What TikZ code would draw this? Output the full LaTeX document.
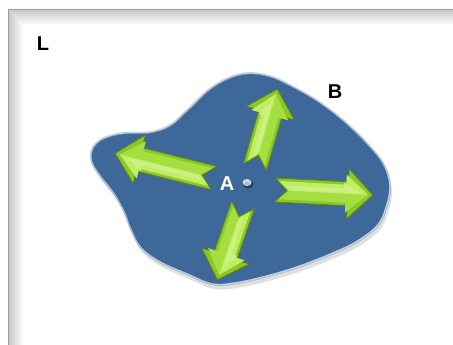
\documentclass[tikz,border=0pt]{standalone}
\usepackage{fontspec}
\setmainfont{Liberation Sans}
\definecolor{blobfill}{RGB}{61,104,153}
\definecolor{blobrim}{RGB}{190,210,230}
\definecolor{grdark}{RGB}{95,135,15}
\definecolor{grbevel}{RGB}{140,198,40}
\definecolor{grmid}{RGB}{165,222,65}
\definecolor{grlight}{RGB}{190,238,100}
\tikzset{
  lbl/.style={font=\fontsize{20}{20}\selectfont\bfseries, inner sep=0pt},
}
\newcommand\grarrow[4]{% x y angle length
\begin{scope}[shift={(#1,#2)},rotate=#3]
 \filldraw[fill=grbevel, draw=grdark, line width=0.8pt, line join=miter] (0,12) -- ({#4-25},12) -- ({#4-25},25) -- (#4,0) -- ({#4-25},-25) -- ({#4-25},-12) -- (0,-12) -- (12,0) -- cycle;
 \fill[grmid] (4,9) -- ({#4-27},9) -- ({#4-27},19) -- ({#4-5},0) -- ({#4-27},-19) -- ({#4-27},-9) -- (4,-9) -- (14,0) -- cycle;
 \fill[grlight] (14,0) -- (4,-9) -- ({#4-27},-9) -- ({#4-27},-19) -- ({#4-5},0) -- cycle;
 \fill[grlight!80!white] (17,-1) -- (12,-5) -- ({#4-29},-5) -- ({#4-29},-11) -- ({#4-12},-1) -- cycle;
\end{scope}}
\begin{document}
\begin{tikzpicture}[x=1pt,y=-1pt]
\useasboundingbox (0,0) rectangle (453,345);
\fill[white] (0,0) rectangle (453,345);
% frame
\shade[top color=gray!45, bottom color=white] (8,9) -- (453,9) -- (453,25) -- (23,25) -- cycle;
\shade[left color=gray!45, right color=white] (8,9) -- (23,25) -- (23,345) -- (8,345) -- cycle;
\draw[gray!75, line width=1pt] (453,9.5) -- (8.5,9.5) -- (8.5,345);
% blob
\def\blobpath{plot[smooth cycle, tension=0.6] coordinates {
 (91,152) (96,143) (106,137) (123,133) (150,132) (170,125) (187,110) (208,90)
 (228,78) (248,73) (270,76) (292,86) (318,101) (343,120) (366,142) (383,163)
 (390,185) (386,208) (377,226) (356,242) (333,253) (300,266) (267,276) (235,283)
 (212,284) (187,274) (160,262) (141,248) (131,230) (124,212) (114,194) (100,176) (92,163)}}
\fill[gray!60, opacity=0.4] [shift={(2,5)}] \blobpath;
\fill[blobfill] \blobpath;
\draw[blobrim, line width=1.6pt] \blobpath;
\draw[gray!70, line width=0.4pt] [shift={(0.6,1)}] \blobpath;
% arrows
\grarrow{255}{167}{74}{81}
\grarrow{214}{178}{166}{102}
\grarrow{275}{190}{-3}{98}
\grarrow{243}{205}{251}{79}
% hole
\fill[blobfill!60!black] (248,184) ellipse (5.5 and 4.5);
\fill[blobrim!80!white] (247,182.5) ellipse (4.5 and 3.5);
\fill[gray!55] (247,183.5) ellipse (2.5 and 2);
% labels
\node[lbl] (L) at (43,44) {L};
\node[lbl] (B) at (335,92) {B};
\node[lbl, text=white] (A) at (227,184) {A};
\end{tikzpicture}
\end{document}
